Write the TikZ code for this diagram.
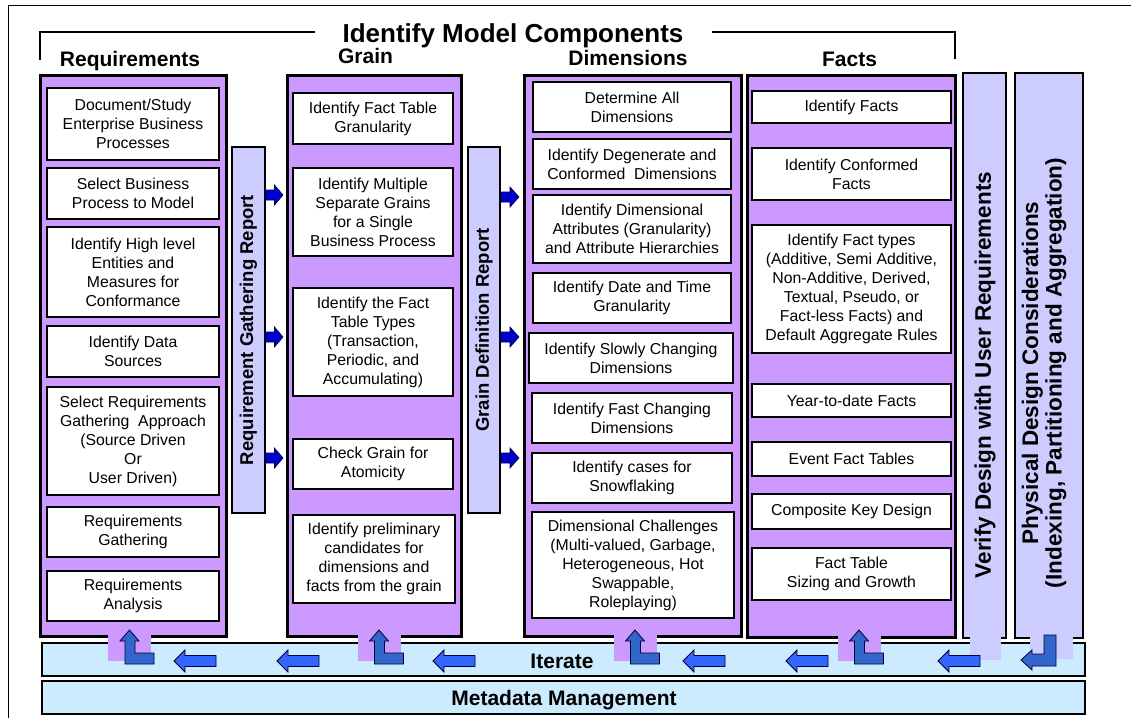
\documentclass[tikz,border=0pt]{standalone}
\usepackage{fontspec}
\setmainfont{Liberation Sans}
\definecolor{phasePurple}{HTML}{CC99FF}
\definecolor{reportLilac}{HTML}{CCCCFF}
\definecolor{iterBlue}{HTML}{CCEBFF}
\definecolor{loopBlue}{HTML}{3366CC}
\definecolor{backBlue}{HTML}{3366FF}
\definecolor{handBlue}{HTML}{0000CC}

\begin{document}
\begin{tikzpicture}[
    x=1pt, y=-1pt,
    % Phase columns (purple)
    phase/.style={
        rectangle,
        fill=phasePurple,
        draw=black,
        line width=3pt,
        inner sep=0pt
    },
    % Task boxes inside the columns
    task/.style={
        rectangle,
        fill=white,
        draw=black,
        line width=2.5pt,
        align=center,
        inner sep=0pt,
        minimum width=#1,
        font=\fontsize{15.8}{19}\selectfont
    },
    % Report and side bars
    report/.style={
        rectangle,
        fill=reportLilac,
        draw=black,
        line width=2pt,
        inner sep=0pt,
        font=\fontsize{18.5}{20}\selectfont\bfseries
    },
    % Bottom bands
    band/.style={
        rectangle,
        fill=iterBlue,
        draw=black,
        line width=2pt,
        inner sep=0pt,
        minimum width=1043,
        minimum height=33,
        font=\fontsize{21}{24}\selectfont\bfseries
    },
    % Headings
    head/.style={
        anchor=base,
        inner sep=0pt,
        font=\fontsize{21}{24}\selectfont\bfseries
    },
    % Block arrows
    handoff/.style={fill=handBlue, draw=black!80!blue, line width=0.6pt},
    backstep/.style={fill=backBlue, draw=black!80!blue, line width=0.8pt},
    loopup/.style={fill=loopBlue, draw=black!80!blue, line width=0.8pt}
]
\useasboundingbox (0,0) rectangle (1131,718);

% --- FRAME AND BRACKET ---
\draw[line width=1pt] (8,718) -- (8,5) -- (1131,5);
\draw[line width=1.5pt] (40,60) -- (40,32) -- (315,32);
\draw[line width=1.5pt] (712,32) -- (955,32) -- (955,59);
\node[head, font=\fontsize{26}{28}\selectfont\bfseries] (Title) at (513,42) {Identify Model Components};

% --- HEADINGS ---
\node[head] (ReqHead) at (130,66) {Requirements};
\node[head] (GrainHead) at (365.5,63) {Grain};
\node[head] (DimHead) at (628,65) {Dimensions};
\node[head] (FactHead) at (849.5,66) {Facts};

% --- BOTTOM BANDS ---
\node[band] (Iterate) at (563.5,659.5) {};
\node[head] (IterateText) at (562,668) {Iterate};
\node[band] (Metadata) at (563.5,697.5) {};
\node[head] (MetadataText) at (564,705) {Metadata Management};

% --- REQUIREMENTS ---
\node[phase, minimum width=186, minimum height=561] (ReqPhase) at (133,355.5) {};
\node[task=172, minimum height=72] (ReqTask1) at (133,124) {Document/Study\\Enterprise Business\\Processes};
\node[task=172, minimum height=51] (ReqTask2) at (133,193.5) {Select Business\\Process to Model};
\node[task=172, minimum height=90] (ReqTask3) at (133,272) {Identify High level\\Entities and\\Measures for\\Conformance};
\node[task=172, minimum height=51] (ReqTask4) at (133,351.5) {Identify Data\\Sources};
\node[task=172, minimum height=108] (ReqTask5) at (133,441) {Select Requirements\\Gathering~~Approach\\(Source Driven\\Or\\User Driven)};
\node[task=172, minimum height=50] (ReqTask6) at (133,532) {Requirements\\Gathering};
\node[task=172, minimum height=50] (ReqTask7) at (133,596) {Requirements\\Analysis};

% --- GRAIN ---
\node[phase, minimum width=174, minimum height=561] (GrainPhase) at (374,355.5) {};
\node[task=160, minimum height=51] (GrainTask1) at (373,118.5) {Identify Fact Table\\Granularity};
\node[task=160, minimum height=88] (GrainTask2) at (373,212) {Identify Multiple\\Separate Grains\\for a Single\\Business Process};
\node[task=160, minimum height=108] (GrainTask3) at (373,342) {Identify the Fact\\Table Types\\(Transaction,\\Periodic, and\\Accumulating)};
\node[task=160, minimum height=50] (GrainTask4) at (373,464) {Check Grain for\\Atomicity};
\node[task=162, minimum height=88] (GrainTask5) at (374,559) {Identify preliminary\\candidates for\\dimensions and\\facts from the grain};

% --- DIMENSIONS ---
\node[phase, minimum width=217, minimum height=561] (DimPhase) at (632.5,355.5) {};
\node[task=198, minimum height=50] (DimTask1) at (632,107) {Determine All\\Dimensions};
\node[task=198, minimum height=50] (DimTask2) at (632,164) {Identify Degenerate and\\Conformed~~Dimensions};
\node[task=198, minimum height=68] (DimTask3) at (632,229) {Identify Dimensional\\Attributes (Granularity)\\and Attribute Hierarchies};
\node[task=198, minimum height=50] (DimTask4) at (632,298) {Identify Date and Time\\Granularity};
\node[task=204, minimum height=50] (DimTask5) at (631,358) {Identify Slowly Changing\\Dimensions};
\node[task=200, minimum height=50] (DimTask6) at (632,418) {Identify Fast Changing\\Dimensions};
\node[task=200, minimum height=50] (DimTask7) at (632,478) {Identify cases for\\Snowflaking};
\node[task=202, minimum height=106] (DimTask8) at (633,565) {Dimensional Challenges\\(Multi-valued, Garbage,\\Heterogeneous, Hot\\Swappable,\\Roleplaying)};

% --- FACTS ---
\node[phase, minimum width=208, minimum height=562] (FactPhase) at (851,356) {};
\node[task=199, minimum height=32] (FactTask1) at (851.5,107) {Identify Facts};
\node[task=199, minimum height=52] (FactTask2) at (851.5,174) {Identify Conformed\\Facts};
\node[task=199, minimum height=128] (FactTask3) at (851.5,289) {Identify Fact types\\(Additive, Semi Additive,\\Non-Additive, Derived,\\Textual, Pseudo, or\\Fact-less Facts) and\\Default Aggregate Rules};
\node[task=199, minimum height=33] (FactTask4) at (851.5,400.5) {Year-to-date Facts};
\node[task=199, minimum height=34] (FactTask5) at (851.5,459) {Event Fact Tables};
\node[task=199, minimum height=35] (FactTask6) at (851.5,511.5) {Composite Key Design};
\node[task=199, minimum height=52] (FactTask7) at (851.5,574) {Fact Table\\Sizing and Growth};

% --- REPORT BARS ---
\node[report, rotate=90, minimum width=366, minimum height=33] (ReqReport) at (248.5,330) {Requirement Gathering Report};
\node[report, rotate=90, minimum width=366, minimum height=32] (GrainReport) at (484,330) {Grain Definition Report};

% --- SIDE BARS ---
\node[report, minimum width=43, minimum height=565] (VerifyBar) at (984.5,355.5) {};
\node[rotate=90, inner sep=0pt, font=\fontsize{22.5}{24}\selectfont\bfseries] (VerifyText) at (985,375) {Verify Design with User Requirements};
\node[report, minimum width=68, minimum height=565] (PhysBar) at (1049,355.5) {};
\node[rotate=90, inner sep=0pt, align=center, font=\fontsize{22.5}{23.5}\selectfont\bfseries] (PhysText) at (1044,373) {Physical Design Considerations\\(Indexing, Partitioning and Aggregation)};

% --- TABS INTO THE ITERATE BAND ---
\fill[phasePurple] (108,634) rectangle (151,661);
\fill[phasePurple] (358,634) rectangle (401,661);
\fill[phasePurple] (614,634) rectangle (657,661);
\fill[phasePurple] (838,634.5) rectangle (881,661);
\fill[reportLilac] (970,637) rectangle (1001,660);
\fill[reportLilac] (1030,637) rectangle (1073,659);

% --- HAND-OFF ARROWS ---
\filldraw[handoff] (265.5,190) -- ++(9,0) -- ++(0,-5) -- ++(8.5,10) -- ++(-8.5,10) -- ++(0,-5) -- ++(-9,0) -- cycle;
\filldraw[handoff] (265.5,332) -- ++(9,0) -- ++(0,-5) -- ++(8.5,10) -- ++(-8.5,10) -- ++(0,-5) -- ++(-9,0) -- cycle;
\filldraw[handoff] (265.5,453) -- ++(9,0) -- ++(0,-5) -- ++(8.5,10) -- ++(-8.5,10) -- ++(0,-5) -- ++(-9,0) -- cycle;
\filldraw[handoff] (501,192) -- ++(9,0) -- ++(0,-5) -- ++(9,10) -- ++(-9,10) -- ++(0,-5) -- ++(-9,0) -- cycle;
\filldraw[handoff] (501,332) -- ++(9,0) -- ++(0,-5) -- ++(9,10) -- ++(-9,10) -- ++(0,-5) -- ++(-9,0) -- cycle;
\filldraw[handoff] (501,453) -- ++(9,0) -- ++(0,-5) -- ++(9,10) -- ++(-9,10) -- ++(0,-5) -- ++(-9,0) -- cycle;

% --- ITERATE ARROWS ---
\filldraw[backstep] (174,661) -- ++(11,-11) -- ++(0,5.5) -- ++(31,0) -- ++(0,11) -- ++(-31,0) -- ++(0,5.5) -- cycle;
\filldraw[backstep] (277,661) -- ++(11,-11) -- ++(0,5.5) -- ++(31,0) -- ++(0,11) -- ++(-31,0) -- ++(0,5.5) -- cycle;
\filldraw[backstep] (433,661) -- ++(11,-11) -- ++(0,5.5) -- ++(31,0) -- ++(0,11) -- ++(-31,0) -- ++(0,5.5) -- cycle;
\filldraw[backstep] (683,661) -- ++(11,-11) -- ++(0,5.5) -- ++(31,0) -- ++(0,11) -- ++(-31,0) -- ++(0,5.5) -- cycle;
\filldraw[backstep] (786,661) -- ++(11,-11) -- ++(0,5.5) -- ++(31,0) -- ++(0,11) -- ++(-31,0) -- ++(0,5.5) -- cycle;
\filldraw[backstep] (938,661) -- ++(11,-11) -- ++(0,5.5) -- ++(31,0) -- ++(0,11) -- ++(-31,0) -- ++(0,5.5) -- cycle;
\filldraw[loopup] (1044,635) -- (1056,635) -- (1056,666) -- (1032,666) -- (1032,670) -- (1021,660) -- (1032,650) -- (1032,654) -- (1044,654) -- cycle;

% --- RETURN ARROWS INTO EACH PHASE ---
\filldraw[loopup] (125,664) -- ++(29,0) -- ++(0,-11) -- ++(-19,0) -- ++(0,-12) -- ++(4,0) -- ++(-9.5,-11) -- ++(-9.5,11) -- ++(5,0) -- cycle;
\filldraw[loopup] (374.5,664) -- ++(29,0) -- ++(0,-11) -- ++(-19,0) -- ++(0,-12) -- ++(4,0) -- ++(-9.5,-11) -- ++(-9.5,11) -- ++(5,0) -- cycle;
\filldraw[loopup] (630.5,664) -- ++(29,0) -- ++(0,-11) -- ++(-19,0) -- ++(0,-12) -- ++(4,0) -- ++(-9.5,-11) -- ++(-9.5,11) -- ++(5,0) -- cycle;
\filldraw[loopup] (854.5,664) -- ++(29,0) -- ++(0,-11) -- ++(-19,0) -- ++(0,-12) -- ++(4,0) -- ++(-9.5,-11) -- ++(-9.5,11) -- ++(5,0) -- cycle;

\end{tikzpicture}
\end{document}
